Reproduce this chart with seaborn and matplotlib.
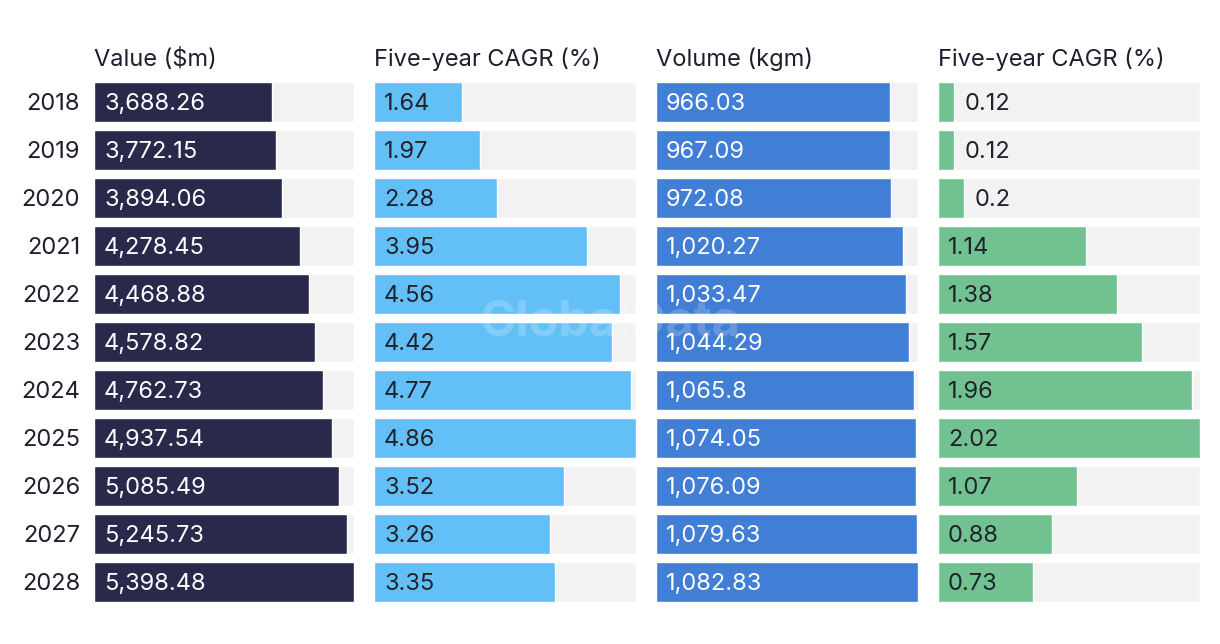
#!/usr/bin/env python3
"""
Four-panel horizontal bar table: value, volume and their five-year CAGRs.
"""

import matplotlib

matplotlib.use("Agg")
import matplotlib.pyplot as plt
import pandas as pd
import seaborn as sns

YEARS = ["2018", "2019", "2020", "2021", "2022", "2023", "2024", "2025", "2026", "2027", "2028"]
VALUE_M = [3688.26, 3772.15, 3894.06, 4278.45, 4468.88, 4578.82, 4762.73, 4937.54, 5085.49, 5245.73, 5398.48]
VALUE_CAGR = [1.64, 1.97, 2.28, 3.95, 4.56, 4.42, 4.77, 4.86, 3.52, 3.26, 3.35]
VOLUME_KGM = [966.03, 967.09, 972.08, 1020.27, 1033.47, 1044.29, 1065.8, 1074.05, 1076.09, 1079.63, 1082.83]
VOLUME_CAGR = [0.12, 0.12, 0.2, 1.14, 1.38, 1.57, 1.96, 2.02, 1.07, 0.88, 0.73]

PANELS = [
    ("Value ($m)", VALUE_M, "#29294c", "white"),
    ("Five-year CAGR (%)", VALUE_CAGR, "#62c0f7", "#22222e"),
    ("Volume (kgm)", VOLUME_KGM, "#417ed6", "white"),
    ("Five-year CAGR (%)", VOLUME_CAGR, "#72c291", "#22222e"),
]
# left edge / right edge of each panel in pixels
PANEL_PX = [(94, 354), (374, 636), (656, 918), (938, 1200)]

W, H = 1220, 644
TOP_PX, BOTTOM_PX = 82, 602
BAR_H = 40 / 48
FS = 17


def fmt(v):
    s = f"{v:,.2f}".rstrip("0").rstrip(".")
    return s


def main() -> None:
    sns.set_theme(style="white")
    plt.rcParams["font.family"] = ["Inter", "DejaVu Sans"]

    fig = plt.figure(figsize=(W / 100, H / 100), dpi=100)
    fig.patch.set_facecolor("white")

    for i, ((title, values, color, txt_color), (x0, x1)) in enumerate(zip(PANELS, PANEL_PX)):
        ax = fig.add_axes([x0 / W, 1 - BOTTOM_PX / H, (x1 - x0) / W, (BOTTOM_PX - TOP_PX) / H])
        df = pd.DataFrame({"year": YEARS, "value": values})
        vmax = max(values)
        df["track"] = vmax
        sns.barplot(data=df, x="track", y="year", orient="h", color="#f2f2f2",
                    width=BAR_H, ax=ax, saturation=1)
        sns.barplot(data=df, x="value", y="year", orient="h", color=color,
                    width=BAR_H, ax=ax, saturation=1)
        ax.set_xlim(0, vmax)
        ax.set_ylim(len(YEARS) - 0.5 - (1 - BAR_H) / 2, -0.5 + (1 - BAR_H) / 2)
        for s in ax.spines.values():
            s.set_visible(False)
        ax.set_xlabel("")
        ax.set_ylabel("")
        ax.set_xticks([])
        if i == 0:
            ax.tick_params(axis="y", length=0, pad=10, labelsize=FS, labelcolor="#1e1e2e")
            for t in ax.get_yticklabels():
                t.set_verticalalignment("center_baseline")
        else:
            ax.set_yticks([])

        px_per_unit = (x1 - x0) / vmax
        for j, v in enumerate(values):
            bar_px = v * px_per_unit
            if bar_px < 40:
                ax.text(v + 11 / px_per_unit, j, fmt(v), va="center_baseline", ha="left",
                        fontsize=FS, color="#22222e")
            else:
                ax.text(10 / px_per_unit, j, fmt(v), va="center_baseline", ha="left",
                        fontsize=FS, color=txt_color)

        fig.text(x0 / W, 1 - 57 / H, title, ha="left", va="center_baseline",
                 fontsize=FS, color="#1e1e2e")

    # faint watermark
    fig.text(610 / W, 1 - 322 / H, "GlobalData", ha="center", va="center",
             fontsize=35, fontweight="bold", color="white", alpha=0.2, zorder=10)

    fig.savefig("out.png", dpi=100)
    plt.close(fig)


if __name__ == "__main__":
    main()
